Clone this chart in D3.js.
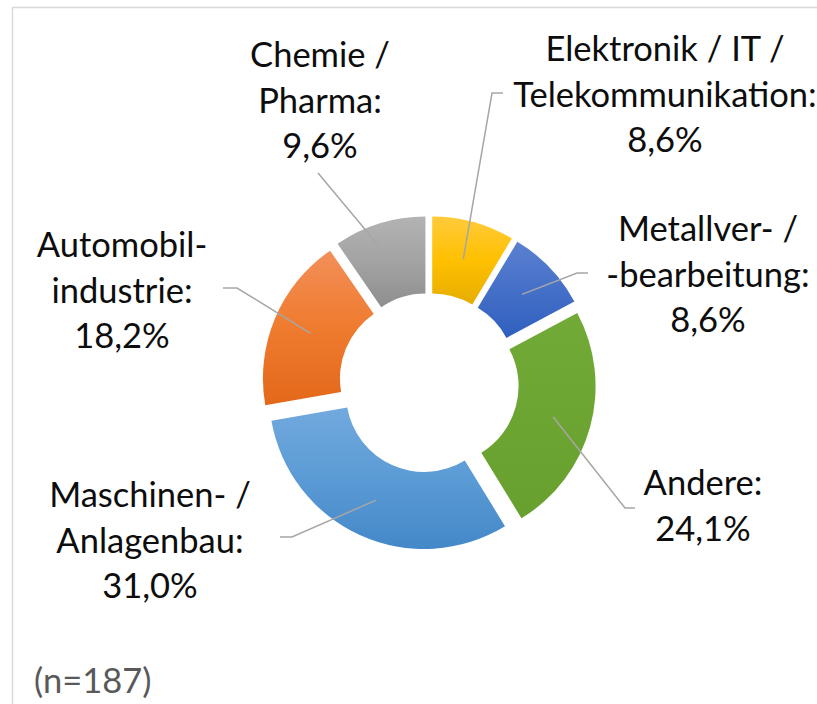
<!DOCTYPE html>
<html>
<head>
<meta charset="utf-8">
<script src="https://cdn.jsdelivr.net/npm/d3@7"></script>
<style>
  html, body { margin: 0; padding: 0; background: #fff; }
  svg { display: block; }
</style>
</head>
<body>
<svg id="chart" width="817" height="704"></svg>
<script>
// ---- data ----
const categories = ["Elektronik / IT / Telekommunikation", "Metallver- / -bearbeitung", "Andere", "Maschinen- / Anlagenbau", "Automobilindustrie", "Chemie / Pharma"];
const values = [8.6, 8.6, 24.1, 31.0, 18.2, 9.6];
const labelLines = [
  ["Elektronik / IT /", "Telekommunikation:", "8,6%"],
  ["Metallver- /", "-bearbeitung:", "8,6%"],
  ["Andere:", "24,1%"],
  ["Maschinen- /", "Anlagenbau:", "31,0%"],
  ["Automobil-", "industrie:", "18,2%"],
  ["Chemie /", "Pharma:", "9,6%"]
];
const colorsTop = ["#ffcb3c", "#5b80d0", "#71aa36", "#72a9de", "#f28f59", "#b3b3b3"];
const colorsMid = ["#ffc000", "#4570c8", "#6ca532", "#5b9bd5", "#ef7b2e", "#a3a3a3"];
const colorsBot = ["#e6ad00", "#2f5fbe", "#68a02f", "#4488c8", "#e3681a", "#8e8e8e"];
const note = "(n=187)";

// ---- layout ----
const svg = d3.select("#chart");
const cx = 429, cy = 383;
const outerR = 155, innerR = 78, explode = 12;
const fontSize = 34.5, lineH = 45.5;

// label blocks: center x, first baseline
const labelPos = [
  [665, 61], [708, 241], [703, 495], [150, 507], [122, 257], [320, 67]
];
// leader lines: elbow and end points (null elbow means straight line)
const leaderEnds = [
  [[492, 93], [503, 93]],
  [[577, 273], [588, 273]],
  [[625, 508], [635, 508]],
  [[292, 537], [280, 537]],
  [[237, 288], [223, 288]],
  [null, [318, 173]]
];

// frame
svg.append("line").attr("x1", 12).attr("x2", 817).attr("y1", 7.5).attr("y2", 7.5)
  .attr("stroke", "#d9d9d9").attr("stroke-width", 1.5);
svg.append("line").attr("x1", 12.5).attr("x2", 12.5).attr("y1", 7).attr("y2", 704)
  .attr("stroke", "#d9d9d9").attr("stroke-width", 1.5);

const defs = svg.append("defs");
categories.forEach((c, i) => {
  const g = defs.append("linearGradient").attr("id", "grad" + i)
    .attr("x1", 0).attr("y1", 0).attr("x2", 0).attr("y2", 1);
  g.append("stop").attr("offset", "0%").attr("stop-color", colorsTop[i]);
  g.append("stop").attr("offset", "50%").attr("stop-color", colorsMid[i]);
  g.append("stop").attr("offset", "100%").attr("stop-color", colorsBot[i]);
});

const pie = d3.pie().sort(null).value(d => d).startAngle(0).endAngle(2 * Math.PI);
const arcs = pie(values);
const arc = d3.arc().innerRadius(innerR).outerRadius(outerR);

const g = svg.append("g").attr("transform", `translate(${cx},${cy})`);
arcs.forEach((a, i) => {
  const mid = (a.startAngle + a.endAngle) / 2;
  const dx = explode * Math.sin(mid), dy = -explode * Math.cos(mid);
  g.append("path")
    .attr("d", arc(a))
    .attr("transform", `translate(${dx},${dy})`)
    .attr("fill", `url(#grad${i})`);
});

// leader lines
arcs.forEach((a, i) => {
  const mid = (a.startAngle + a.endAngle) / 2;
  const dx = explode * Math.sin(mid), dy = -explode * Math.cos(mid);
  const c = arc.centroid(a);
  const start = [cx + c[0] + dx, cy + c[1] + dy];
  const pts = [start];
  const [elbow, end] = leaderEnds[i];
  if (elbow) pts.push(elbow);
  pts.push(end);
  svg.append("path")
    .attr("d", d3.line()(pts))
    .attr("fill", "none")
    .attr("stroke", "#a6a6a6")
    .attr("stroke-width", 1.5);
});

// labels
labelLines.forEach((lines, i) => {
  const [x, y] = labelPos[i];
  const t = svg.append("text")
    .attr("text-anchor", "middle")
    .attr("font-family", "Lato, 'Open Sans', sans-serif")
    .attr("font-size", fontSize)
    .attr("fill", "#0d0d0d");
  lines.forEach((l, j) => {
    t.append("tspan").attr("x", x).attr("y", y + j * lineH).text(l);
  });
});

svg.append("text")
  .attr("x", 34).attr("y", 693)
  .attr("font-family", "Lato, 'Open Sans', sans-serif")
  .attr("font-size", fontSize)
  .attr("fill", "#595959")
  .text(note);
</script>
</body>
</html>
